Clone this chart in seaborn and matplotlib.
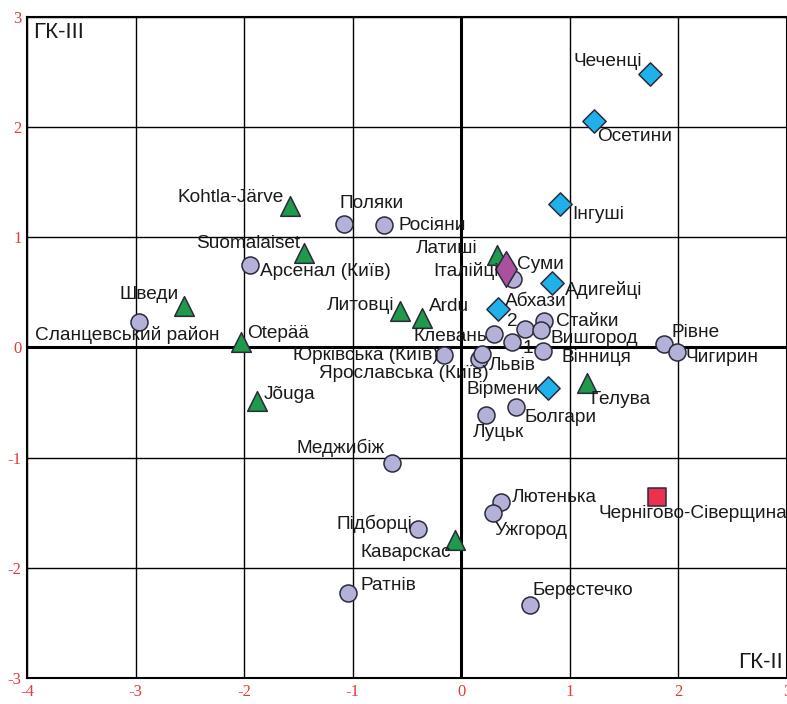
import matplotlib
matplotlib.use("Agg")
import matplotlib.pyplot as plt
import seaborn as sns
import pandas as pd

# ---- data ----
names = [
    "Kohtla-Järve", "Suomalaiset", "Шведи", "Otepää", "Jõuga", "Литовці", "Ardu",
    "Латиші", "Гелува", "Каварскас",
    "Сланцевський район", "Поляки", "Росіяни", "Арсенал (Київ)", "Суми", "Клевань",
    "2", "Стайки", "Вишгород", "1", "Вінниця", "Юрківська (Київ)", "Ярославська (Київ)",
    "Львів", "Рівне", "Чигирин", "Болгари", "Луцьк", "Меджибіж", "Лютенька", "Ужгород",
    "Підборці", "Ратнів", "Берестечко",
    "Чеченці", "Осетини", "Інгуші", "Адигейці", "Абхази", "Вірмени",
    "Італійці", "Чернігово-Сіверщина",
]
gk2 = [
    -1.58, -1.45, -2.55, -2.03, -1.88, -0.56, -0.36, 0.33, 1.16, -0.06,
    -2.97, -1.08, -0.71, -1.95, 0.48, 0.30, 0.59, 0.76, 0.73, 0.47, 0.75, -0.16, 0.16,
    0.19, 1.87, 1.99, 0.50, 0.23, -0.64, 0.37, 0.29, -0.40, -1.04, 0.63,
    1.74, 1.22, 0.91, 0.84, 0.34, 0.80,
    0.41, 1.80,
]
gk3 = [
    1.28, 0.86, 0.38, 0.05, -0.49, 0.33, 0.27, 0.84, -0.32, -1.75,
    0.23, 1.12, 1.11, 0.75, 0.62, 0.12, 0.17, 0.24, 0.16, 0.05, -0.03, -0.07, -0.10,
    -0.06, 0.03, -0.04, -0.54, -0.61, -1.05, -1.40, -1.50, -1.65, -2.23, -2.34,
    2.48, 2.06, 1.30, 0.59, 0.35, -0.37,
    0.71, -1.36,
]
groups = (["tri"] * 10 + ["circ"] * 24 + ["dia"] * 6 + ["ita", "sq"])
ticks = [-4, -3, -2, -1, 0, 1, 2, 3]
yticks = [-3, -2, -1, 0, 1, 2, 3]

# ---- label layout (pixel offsets, alignment) ----
label_off = {
    "Kohtla-Järve": (-6, 9, "right"), "Suomalaiset": (-4, 9, "right"),
    "Шведи": (-6, 11, "right"), "Otepää": (6, 8, "left"), "Jõuga": (6, 7, "left"),
    "Литовці": (-6, 6, "right"), "Ardu": (7, 11, "left"), "Латиші": (-20, 6, "right"),
    "Гелува": (3, -17, "left"), "Каварскас": (-4, -12, "right"),
    "Сланцевський район": (-12, -13, "center"), "Поляки": (-5, 21, "left"),
    "Росіяни": (14, 0, "left"), "Арсенал (Київ)": (10, -7, "left"),
    "Суми": (4, 15, "left"), "Клевань": (-7, -2, "right"), "2": (-8, 7, "right"),
    "Стайки": (12, 0, "left"), "Вишгород": (10, -9, "left"), "1": (10, -7, "left"),
    "Вінниця": (19, -7, "left"), "Юрківська (Київ)": (-5, 0, "right"),
    "Ярославська (Київ)": (10, -15, "right"), "Львів": (7, -11, "left"),
    "Рівне": (7, 12, "left"), "Чигирин": (8, -6, "left"), "Болгари": (9, -11, "left"),
    "Луцьк": (12, -18, "center"), "Меджибіж": (-7, 15, "right"),
    "Лютенька": (10, 4, "left"), "Ужгород": (2, -18, "left"),
    "Підборці": (-6, 5, "right"), "Ратнів": (12, 8, "left"),
    "Берестечко": (3, 15, "left"), "Чеченці": (-8, 13, "right"),
    "Осетини": (3, -16, "left"), "Інгуші": (12, -10, "left"),
    "Адигейці": (12, -7, "left"), "Абхази": (7, 7, "left"),
    "Вірмени": (-9, -1, "right"), "Італійці": (-7, -2, "right"),
    "Чернігово-Сіверщина": (36, -16, "center"),
}

df = pd.DataFrame({"name": names, "x": gk2, "y": gk3, "g": groups})

sns.set_style("white")
plt.rcParams["font.family"] = ["Liberation Sans", "DejaVu Sans"]
plt.rcParams["axes.unicode_minus"] = False

fig = plt.figure(figsize=(7.87, 7.04), dpi=100)
ax = fig.add_axes([27 / 787, 1 - 678 / 704, 760 / 787, 661 / 704])

palette = {"circ": "#b4b1d8", "tri": "#1f9a4c", "dia": "#1fb2ea",
           "ita": "#a9519f", "sq": "#e8324f"}
markers = {"circ": "o", "tri": "^", "dia": "D", "ita": "d", "sq": "s"}
sizes = {"circ": 150, "tri": 200, "dia": 140, "ita": 330, "sq": 170}

for g in ["circ", "tri", "dia", "ita", "sq"]:
    sub = df[df.g == g]
    sns.scatterplot(data=sub, x="x", y="y", ax=ax, marker=markers[g],
                    s=sizes[g], color=palette[g], edgecolor="#2a2a3a",
                    linewidth=1.1, zorder=5, legend=False)

for n, x, y in zip(names, gk2, gk3):
    dx, dy, ha = label_off[n]
    ax.annotate(n, (x, y), xytext=(dx * 0.72, dy * 0.72), textcoords="offset points",
                ha=ha, va="center", fontsize=13.7, color="#1a1a1a", zorder=6)

ax.set_xlim(-4, 3)
ax.set_ylim(-3, 3)
ax.set_xticks(ticks)
ax.set_yticks(yticks)
ax.set_xlabel("")
ax.set_ylabel("")
ax.grid(True, color="black", linewidth=1.0)
ax.axhline(0, color="black", linewidth=2.2, zorder=2)
ax.axvline(0, color="black", linewidth=2.2, zorder=2)
for s in ax.spines.values():
    s.set_color("black")
    s.set_linewidth(1.5)
ax.tick_params(length=0, labelcolor="#e03a3a", labelsize=12, pad=4)
for lab in ax.get_xticklabels() + ax.get_yticklabels():
    lab.set_family(["Liberation Serif", "DejaVu Serif"])

ax.text(0.008, 0.977, "ГК-III", transform=ax.transAxes, ha="left", va="center",
        fontsize=16, color="#1a1a1a")
ax.text(0.995, 0.024, "ГК-II", transform=ax.transAxes, ha="right", va="center",
        fontsize=16, color="#1a1a1a")

fig.savefig("out.png", dpi=100)
